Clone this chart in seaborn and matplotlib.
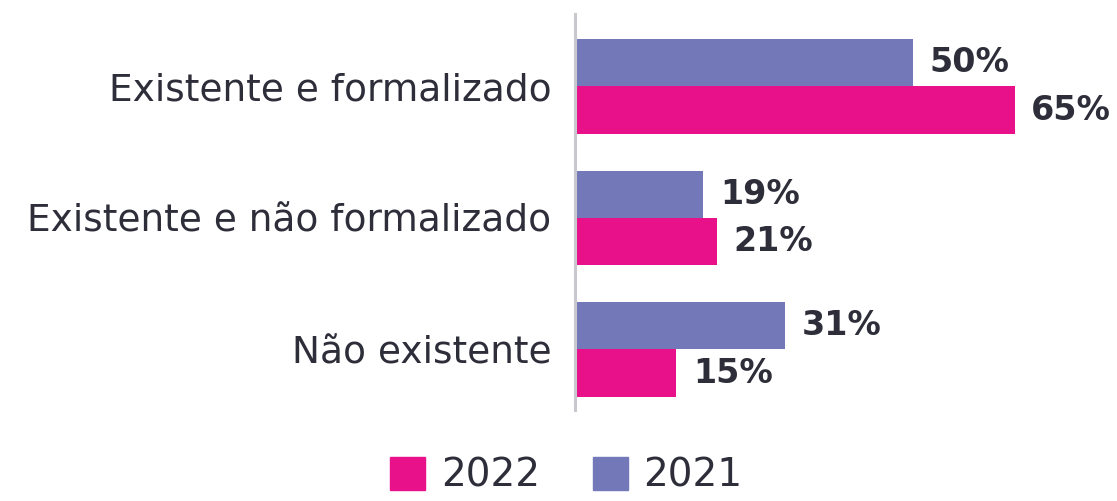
import pandas as pd
import matplotlib.pyplot as plt
import seaborn as sns
from matplotlib.patches import Patch

categories = ['Existente e formalizado', 'Existente e não formalizado', 'Não existente']
values_2021 = [50, 19, 31]
values_2022 = [65, 21, 15]
years = ['2021', '2022']

colors = {'2022': '#E8118A', '2021': '#7378B8'}
text_color = '#2E2E3A'

df = pd.DataFrame({
    'categoria': categories * 2,
    'ano': ['2021'] * 3 + ['2022'] * 3,
    'valor': values_2021 + values_2022,
})

sns.set_style("white")
plt.rcParams['font.family'] = ['DejaVu Sans']

fig = plt.figure(figsize=(11.17, 5.01), dpi=100)
ax = fig.add_axes([575 / 1117, 1 - 410 / 501, 541 / 1117, 396 / 501])

sns.barplot(data=df, y='categoria', x='valor', hue='ano', hue_order=years,
            order=categories, palette=colors, orient='h', width=0.72,
            saturation=1, legend=False, linewidth=0, ax=ax)

for container in ax.containers:
    ax.bar_label(container, labels=[f'{v:.0f}%' for v in container.datavalues],
                 padding=12, fontsize=24, fontweight='bold', color=text_color)

ax.set_xlim(0, 80)
ax.set_ylim(2.46, -0.55)
ax.set_xlabel('')
ax.set_ylabel('')
ax.set_xticks([])
ax.tick_params(axis='y', length=0, pad=17, labelsize=27, labelcolor=text_color)
for side in ['top', 'right', 'bottom']:
    ax.spines[side].set_visible(False)
ax.spines['left'].set_color('#C8C8CE')
ax.spines['left'].set_linewidth(2.2)

handles = [Patch(color=colors['2022'], label='2022'), Patch(color=colors['2021'], label='2021')]
leg = fig.legend(handles=handles, loc='center', bbox_to_anchor=(0.507, 0.05), ncol=2,
                 frameon=False, fontsize=28, handlelength=0.9, handleheight=0.9,
                 handletextpad=0.4, columnspacing=1.35, borderpad=0.2)
for t in leg.get_texts():
    t.set_color(text_color)

fig.savefig('out.png', dpi=100)
plt.close()
